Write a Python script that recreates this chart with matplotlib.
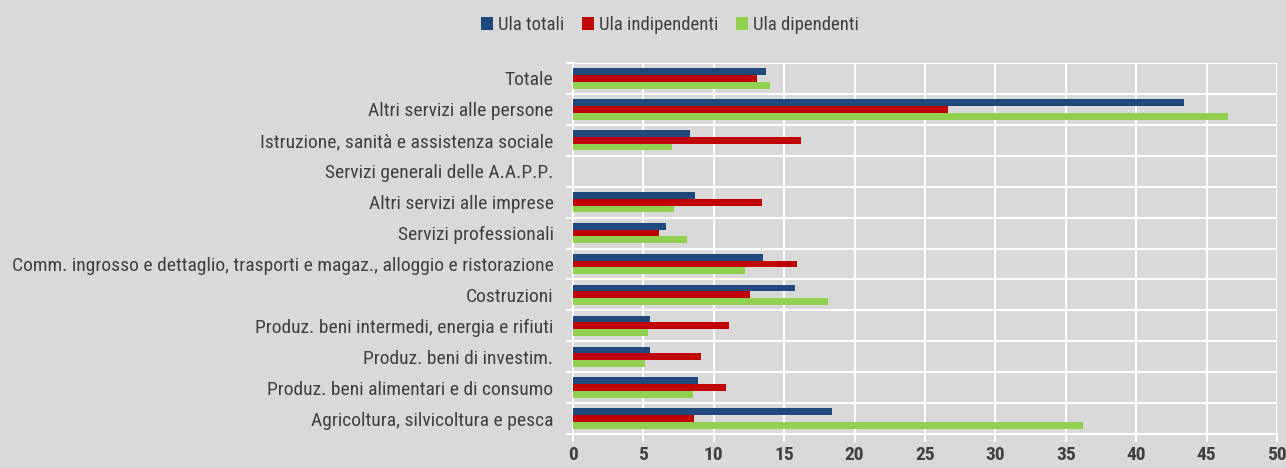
import numpy as np
import matplotlib
matplotlib.use("Agg")
import matplotlib.pyplot as plt
from matplotlib import font_manager

# categories, top to bottom
categories = [
    "Totale",
    "Altri servizi alle persone",
    "Istruzione, sanità e assistenza sociale",
    "Servizi generali delle A.A.P.P.",
    "Altri servizi alle imprese",
    "Servizi professionali",
    "Comm. ingrosso e dettaglio, trasporti e magaz., alloggio e ristorazione",
    "Costruzioni",
    "Produz. beni intermedi, energia e rifiuti",
    "Produz. beni di investim.",
    "Produz. beni alimentari e di consumo",
    "Agricoltura, silvicoltura e pesca",
]
ula_totali = [13.7, 43.4, 8.3, 0, 8.7, 6.6, 13.5, 15.8, 5.5, 5.5, 8.9, 18.4]
ula_indip = [13.1, 26.6, 16.2, 0, 13.4, 6.1, 15.9, 12.6, 11.1, 9.1, 10.9, 8.6]
ula_dip = [14.0, 46.5, 7.0, 0, 7.2, 8.1, 12.2, 18.1, 5.3, 5.1, 8.5, 36.2]

series_names = ["Ula totali", "Ula indipendenti", "Ula dipendenti"]
colors = ["#1f497d", "#c00000", "#92d050"]
bg = "#d9d9d9"
txt = "#404040"

avail = {f.name for f in font_manager.fontManager.ttflist}
fam = [f for f in ["Liberation Sans Narrow", "Roboto Condensed", "Liberation Sans"] if f in avail] + ["DejaVu Sans"]
plt.rcParams["font.family"] = fam

fig = plt.figure(figsize=(12.86, 4.68), dpi=100, facecolor=bg)
ax = fig.add_axes([573 / 1286, 1 - 434 / 468, 704 / 1286, 371 / 468])
ax.set_facecolor(bg)

n = len(categories)
y = np.arange(n)
h = 0.22
for i, (vals, name, c) in enumerate(zip([ula_totali, ula_indip, ula_dip], series_names, colors)):
    ax.barh(y + (i - 1) * h, vals, height=h, color=c, label=name, zorder=3)

ax.set_xlim(0, 50)
ax.set_ylim(n - 0.5, -0.5)
ax.set_xticks(np.arange(0, 51, 5))
ax.set_yticks(y)
ax.set_yticklabels(categories, fontsize=14, color=txt)
ax.set_yticks(np.arange(-0.5, n, 1), minor=True)
ax.tick_params(axis="y", which="major", length=0, pad=14)
ax.tick_params(axis="y", which="minor", length=5, width=1.5, color="white")
ax.tick_params(axis="x", length=6, width=1.5, color="white", labelsize=14, labelcolor=txt, pad=3)
for lab in ax.get_xticklabels():
    lab.set_fontweight("bold")

ax.grid(axis="x", color="white", linewidth=1.5, zorder=0)
ax.grid(axis="y", which="minor", color="white", linewidth=1.5, zorder=0)
for s in ["top", "right"]:
    ax.spines[s].set_visible(False)
for s in ["left", "bottom"]:
    ax.spines[s].set_color("white")
    ax.spines[s].set_linewidth(1.5)

fig.legend(loc="center", bbox_to_anchor=(670 / 1286, 1 - 25 / 468), ncol=3, frameon=False,
           fontsize=13.5, handlelength=0.65, handleheight=0.65, handletextpad=0.3, columnspacing=0.9,
           labelcolor=txt)

fig.savefig("out.png", dpi=100, facecolor=bg)
